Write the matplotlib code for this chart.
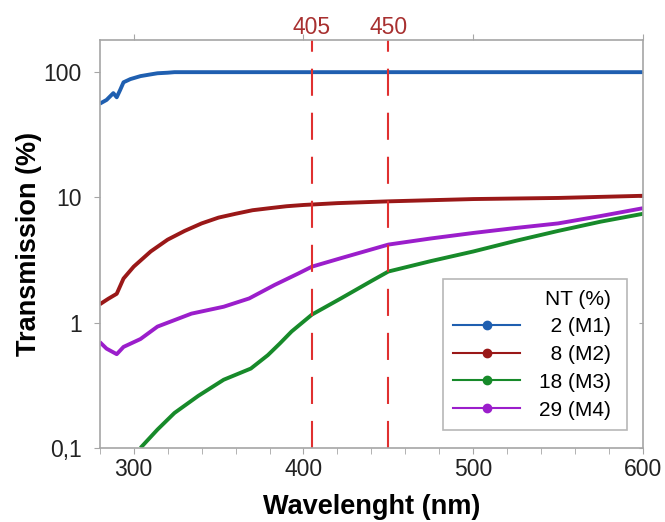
import numpy as np
import matplotlib
matplotlib.use("Agg")
import matplotlib.pyplot as plt
from matplotlib.lines import Line2D
from matplotlib.ticker import FixedLocator, MultipleLocator, NullLocator

plt.rcParams['font.family'] = ['Liberation Sans', 'DejaVu Sans']
plt.rcParams['lines.scale_dashes'] = False

# wavelength (nm) / transmission (%)
wl_m1 = [280, 284, 288, 290, 292, 294, 298, 304, 310, 314, 320, 324, 330, 400, 500, 600]
tr_m1 = [56, 60, 68, 63, 72, 83, 88, 93, 96, 98, 99, 100, 100, 100, 100, 100]

wl_m2 = [280, 285, 290, 294, 300, 310, 320, 330, 340, 350, 360, 370, 380, 390, 400,
         420, 450, 500, 550, 600]
tr_m2 = [1.4, 1.55, 1.7, 2.25, 2.8, 3.7, 4.6, 5.4, 6.2, 6.9, 7.4, 7.9, 8.2, 8.5, 8.7,
         9.0, 9.3, 9.7, 9.9, 10.3]

wl_m3 = [304, 314, 324, 338, 353, 369, 379, 386, 393, 405, 422, 440, 450, 475, 500,
         525, 550, 575, 600]
tr_m3 = [0.1, 0.14, 0.19, 0.26, 0.35, 0.43, 0.55, 0.68, 0.85, 1.16, 1.56, 2.15, 2.56,
         3.1, 3.7, 4.5, 5.4, 6.4, 7.4]

wl_m4 = [280, 284, 290, 294, 304, 314, 334, 353, 368, 383, 397, 405, 422, 450, 475,
         500, 525, 550, 575, 600]
tr_m4 = [0.70, 0.62, 0.56, 0.64, 0.74, 0.93, 1.18, 1.34, 1.56, 2.0, 2.47, 2.8, 3.27,
         4.2, 4.7, 5.2, 5.7, 6.2, 7.1, 8.2]

series = [(wl_m1, tr_m1, '#1f5fb0', '2 (M1)'),
          (wl_m2, tr_m2, '#9a1818', '8 (M2)'),
          (wl_m3, tr_m3, '#178a2a', '18 (M3)'),
          (wl_m4, tr_m4, '#9b1ecb', '29 (M4)')]

laser_lines = [405, 450]
yticks = [0.1, 1, 10, 100]
ytick_labels = ['0,1', '1', '10', '100']

grey = '#a6a6a6'
fig = plt.figure(figsize=(6.65, 5.22), dpi=100)
ax = fig.add_axes([0.150, 0.142, 0.817, 0.781])

for wl, tr, c, lab in series:
    ax.plot(wl, tr, color=c, lw=2.8, solid_capstyle='butt')

for xv in laser_lines:
    ax.axvline(xv, color='#e03030', lw=1.5, dashes=(19.5, 12.2))

ax.set_yscale('log')
ax.set_xlim(280, 600)
ax.set_ylim(0.1, 180)
ax.yaxis.set_major_locator(FixedLocator(yticks))
ax.yaxis.set_minor_locator(NullLocator())
ax.set_yticklabels(ytick_labels)
ax.xaxis.set_major_locator(MultipleLocator(100))
ax.xaxis.set_minor_locator(MultipleLocator(20))

for s in ax.spines.values():
    s.set_color(grey)
    s.set_linewidth(1.2)
ax.tick_params(which='both', colors=grey, labelcolor='#222222', labelsize=16.5,
               top=True, right=False, direction='out', length=4)
ax.tick_params(axis='x', which='minor', top=False)
ax.tick_params(axis='y', pad=9)

# inward ticks on the right spine
rax = ax.secondary_yaxis('right')
rax.set_yticks(yticks)
rax.yaxis.set_minor_locator(NullLocator())
rax.tick_params(colors=grey, direction='in', length=3, labelright=False)
rax.spines['right'].set_visible(False)

ax.set_xlabel('Wavelenght (nm)', fontsize=19.5, fontweight='bold', labelpad=9)
ax.set_ylabel('Transmission (%)', fontsize=19.5, fontweight='bold', labelpad=1)

# labels of the laser wavelengths above the frame
top = ax.secondary_xaxis('top')
top.set_xticks(laser_lines)
top.set_xticklabels([str(v) for v in laser_lines])
top.tick_params(length=0, labelcolor='#a83030', labelsize=16.5, pad=1)
top.spines['top'].set_visible(False)

handles = [Line2D([], [], color=c, lw=1.5, marker='o', ms=6) for _, _, c, _ in series]
labels = ['\u2007' * (2 - len(lab.split()[0])) + lab + ' ' for _, _, _, lab in series]
leg = ax.legend(handles, labels, title='NT (%) ', alignment='right',
                loc='lower right', bbox_to_anchor=(0.97, 0.044), borderaxespad=0,
                fontsize=15, title_fontsize=15, frameon=True, fancybox=False,
                handlelength=3.2, labelspacing=0.42, borderpad=0.5,
                handletextpad=0.9)
leg.get_frame().set_edgecolor(grey)
leg.get_frame().set_linewidth(1.2)

fig.savefig('out.png', dpi=100)
